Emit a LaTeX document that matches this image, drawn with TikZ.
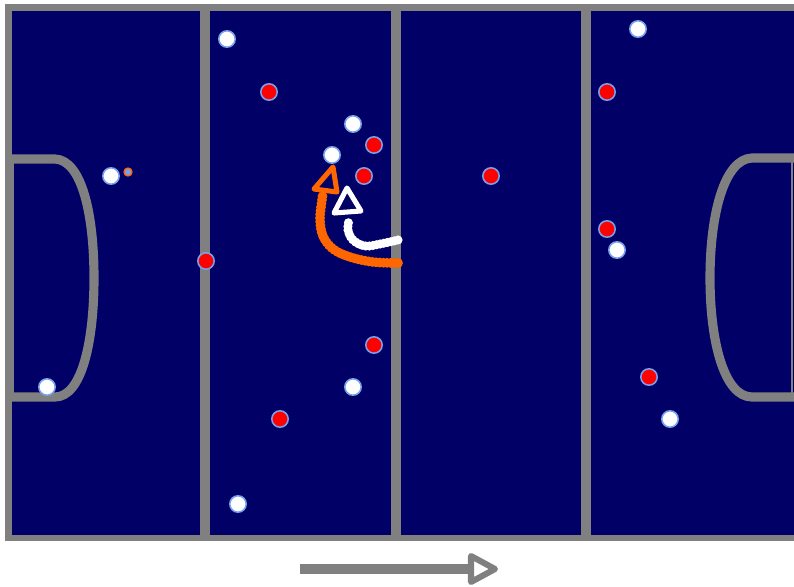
\documentclass[tikz,border=0pt]{standalone}
\usepackage{xcolor}
\usepackage{tikz}
\usetikzlibrary{arrows.meta,positioning,calc}
\definecolor{pitchnavy}{RGB}{0,0,102}
\definecolor{linegray}{RGB}{128,128,128}
\definecolor{rimblue}{RGB}{120,160,235}
\definecolor{trailorange}{RGB}{255,102,0}
\definecolor{teamred}{RGB}{255,0,0}
\tikzset{
  pitchline/.style={draw=linegray, line width=4.3pt},
  halfline/.style={draw=linegray, line width=7pt},
  circleline/.style={draw=linegray, line width=6.5pt, line join=round},
  whiteplayer/.style={circle, draw=rimblue, fill=white, line width=1.1pt,
    minimum size=4.1mm, inner sep=0pt},
  redplayer/.style={circle, draw=rimblue, fill=teamred, line width=1.1pt,
    minimum size=4.1mm, inner sep=0pt},
  ballnode/.style={circle, draw=trailorange, fill=rimblue, line width=0.9pt,
    minimum size=2mm, inner sep=0pt},
  orangetrail/.style={draw=trailorange, line width=7pt, line cap=round, dash pattern=on 0pt off 2.6pt},
  whitetrail/.style={draw=white, line width=6.5pt, line cap=round, dash pattern=on 0pt off 2.6pt},
  orangehead/.style={draw=trailorange, line width=3.6pt, line join=round},
  whitehead/.style={draw=white, line width=3.6pt, line join=round},
  dirline/.style={draw=linegray, line width=7pt},
  dirhead/.style={draw=linegray, line width=4.3pt, line join=round}
}

\begin{document}
\begin{tikzpicture}[x=0.025cm, y=-0.025cm]
\useasboundingbox (0,0) rectangle (794,586);

% pitch
\fill[pitchnavy] (8.5,7.5) rectangle (810,538);
\draw[pitchline] (8.5,7.5) rectangle (810,538);
\draw[halfline] (205,7.5) -- (205,538);
\draw[halfline] (396,7.5) -- (396,538);
\draw[halfline] (586,7.5) -- (586,538);

% shooting circles
\draw[circleline] (12,159) -- (55,159) .. controls (82,160) and (94,215) .. (94,278)
  .. controls (94,341) and (82,397) .. (55,397) -- (12,397);
\draw[draw=linegray, line width=1.5pt] (13,159) -- (13,397);
\draw[circleline] (800,158) -- (752,158) .. controls (724,159) and (710,215) .. (710,278)
  .. controls (710,341) and (724,397) .. (752,397) -- (800,397);
\draw[draw=linegray, line width=1.5pt] (792,158) -- (792,397);

% players
\node[whiteplayer] (w1) at (227,39) {};
\node[whiteplayer] (w2) at (353,124) {};
\node[whiteplayer] (w3) at (332,155) {};
\node[whiteplayer] (w4) at (111,176) {};
\node[whiteplayer] (w5) at (638,29) {};
\node[whiteplayer] (w6) at (617,250) {};
\node[whiteplayer] (w7) at (47,387) {};
\node[whiteplayer] (w8) at (353,387) {};
\node[whiteplayer] (w9) at (670,419) {};
\node[whiteplayer] (w10) at (238,504) {};

\node[redplayer] (r1) at (269,92) {};
\node[redplayer] (r2) at (374,145) {};
\node[redplayer] (r3) at (364,176) {};
\node[redplayer] (r4) at (491,176) {};
\node[redplayer] (r5) at (607,92) {};
\node[redplayer] (r6) at (607,229) {};
\node[redplayer] (r7) at (206,261) {};
\node[redplayer] (r8) at (374,345) {};
\node[redplayer] (r9) at (649,377) {};
\node[redplayer] (r10) at (280,419) {};

\node[ballnode] (ball) at (128,172) {};

% runs
\draw[orangetrail] plot[smooth, tension=0.6] coordinates
  {(398,263) (373,262) (350,257) (333,249) (323,236) (320,219) (322,200) (323,193)};
\draw[orangehead] (333,167) -- (314,189) -- (337,192) -- cycle;
\draw[whitetrail] plot[smooth, tension=0.6] coordinates
  {(398,240) (380,244) (365,246) (353,240) (348,230) (349,220)};
\draw[whitehead] (347,188) -- (334,213) -- (361,211) -- cycle;

% direction of play
\coordinate (dirstart) at (300,569);
\coordinate (dirbase) at (471,569);
\coordinate (dirend) at (495,569);
\draw[dirline] (dirstart) -- (dirbase);
\draw[dirhead] ($(dirbase)+(0,-13)$) -- (dirend) -- ($(dirbase)+(0,13)$) -- cycle;
\end{tikzpicture}
\end{document}
